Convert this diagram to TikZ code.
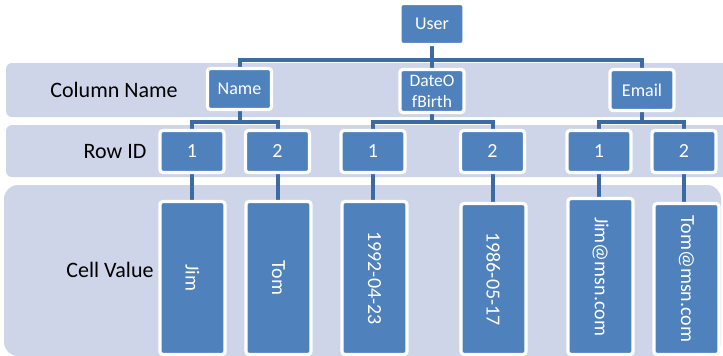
\documentclass[tikz,border=0pt]{standalone}
\usepackage{fontspec}
\setmainfont{Carlito}
\usepackage{graphicx}
\definecolor{boxblue}{HTML}{4F81BD}
\definecolor{connblue}{HTML}{3C6BA4}
\definecolor{bandfill}{HTML}{CFD5E9}
\pgfdeclarelayer{bg}
\pgfdeclarelayer{mid}
\pgfsetlayers{bg,mid,main}
\tikzset{
  bx/.style={draw=white, line width=3.2pt, fill=boxblue, rounded corners=3pt,
    text=white, inner sep=1pt, align=center, font=\fontsize{18}{20}\selectfont},
  colbox/.style={bx, minimum width=64pt, minimum height=41pt},
  rowbox/.style={bx, minimum width=64pt, minimum height=42pt, font=\fontsize{20}{22}\selectfont},
  cellbox/.style={bx, minimum width=65pt, font=\fontsize{20}{22}\selectfont},
  conn/.style={draw=connblue, line width=4pt},
  band/.style={fill=bandfill, draw=none},
  lbl/.style={text=black, font=\fontsize{22}{24}\selectfont, inner sep=0pt}
}
\begin{document}
\begin{tikzpicture}[x=1pt,y=-1pt]
\useasboundingbox (0,0) rectangle (723,356);
\clip (0,0) rectangle (723,356);
% bands
\begin{pgfonlayer}{bg}
\fill[band, rounded corners=6pt] (6,63) rectangle (745,117);
\fill[band, rounded corners=6pt] (6,125) rectangle (745,177);
\fill[band, rounded corners=14pt] (4,185) rectangle (721,356);
\end{pgfonlayer}
% labels
\node[lbl] (lcol) at (114,90) {Column Name};
\node[lbl] (lrow) at (115,152) {Row ID};
\node[lbl] (lcell) at (110,270) {Cell Value};
% top level
\node[colbox] (user) at (432,24) {User};
\node[colbox] (name) at (239.5,89) {Name};
\node[colbox, minimum height=43pt, font=\fontsize{17.5}{21}\selectfont] (dob) at (432,91) {DateO\\fBirth};
\node[colbox] (email) at (642,90) {Email};
% row ids
\node[rowbox] (n1) at (192,151.5) {1};
\node[rowbox] (n2) at (277.5,151.5) {2};
\node[rowbox] (d1) at (373,151.5) {1};
\node[rowbox] (d2) at (492.5,151.5) {2};
\node[rowbox] (e1) at (599,151.5) {1};
\node[rowbox] (e2) at (684,151.5) {2};
% cells
\node[cellbox, minimum height=153pt] (c1) at (192.5,278) {\rotatebox{-90}{Jim}};
\node[cellbox, minimum height=153pt] (c2) at (278.5,278) {\rotatebox{-90}{Tom}};
\node[cellbox, minimum height=153pt] (c3) at (374.5,278) {\rotatebox{-90}{1992-04-23}};
\node[cellbox, minimum height=151pt] (c4) at (493.5,279) {\rotatebox{-90}{1986-05-17}};
\node[cellbox, minimum height=156pt] (c5) at (600.5,276.5) {\rotatebox{-90}{Jim@msn.com}};
\node[cellbox, minimum height=151pt] (c6) at (686.5,279) {\rotatebox{-90}{Tom@msn.com}};
% connectors
\coordinate (b0) at (432,60);
\coordinate (bn) at (239.5,122);
\coordinate (bd) at (432,122);
\coordinate (be) at (642,122);
\begin{pgfonlayer}{mid}
\draw[conn] (user.south) -- (dob.north);
\draw[conn] (name.north) |- (b0) -| (email.north);
\draw[conn] (name.south) -- (bn);
\draw[conn] (n1.north) |- (bn) -| (n2.north);
\draw[conn] (dob.south) -- (bd);
\draw[conn] (d1.north) |- (bd) -| (d2.north);
\draw[conn] (email.south) -- (be);
\draw[conn] (e1.north) |- (be) -| (e2.north);
\draw[conn] (n1.south) -- (n1.south |- c1.north);
\draw[conn] (n2.south) -- (n2.south |- c2.north);
\draw[conn] (d1.south) -- (d1.south |- c3.north);
\draw[conn] (d2.south) -- (d2.south |- c4.north);
\draw[conn] (e1.south) -- (e1.south |- c5.north);
\draw[conn] (e2.south) -- (e2.south |- c6.north);
\end{pgfonlayer}
\end{tikzpicture}
\end{document}
